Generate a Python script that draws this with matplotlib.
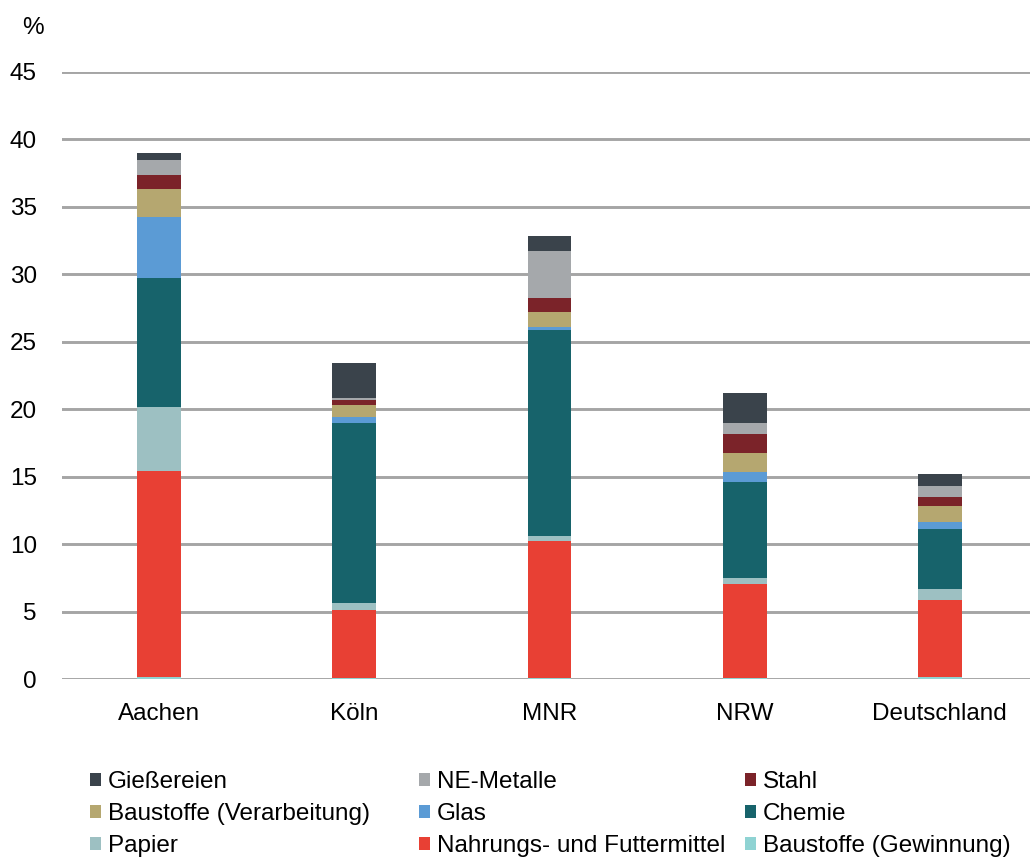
import matplotlib.pyplot as plt
import numpy as np

plt.rcParams['font.family'] = ['Liberation Sans', 'DejaVu Sans']

regions = ['Aachen', 'Köln', 'MNR', 'NRW', 'Deutschland']

# stacked from bottom to top
sectors = ['Baustoffe (Gewinnung)', 'Nahrungs- und Futtermittel', 'Papier', 'Chemie',
           'Glas', 'Baustoffe (Verarbeitung)', 'Stahl', 'NE-Metalle', 'Gießereien']
colors = ['#8fd3d3', '#e84034', '#9dc0c2', '#17636b', '#5b9bd5', '#b5a770',
          '#7b2329', '#a5a8ab', '#3a434b']

baustoffe_gew = [0.15, 0.05, 0.10, 0.10, 0.17]
nahrung = [15.25, 5.05, 10.13, 6.92, 5.69]
papier = [4.80, 0.50, 0.37, 0.44, 0.79]
chemie = [9.50, 13.35, 15.27, 7.12, 4.45]
glas = [4.55, 0.50, 0.20, 0.76, 0.56]
baustoffe_verarb = [2.10, 0.85, 1.16, 1.38, 1.19]
stahl = [1.05, 0.40, 1.04, 1.41, 0.61]
ne_metalle = [1.10, 0.10, 3.43, 0.82, 0.84]
giessereien = [0.50, 2.65, 1.15, 2.22, 0.87]

values = [baustoffe_gew, nahrung, papier, chemie, glas, baustoffe_verarb,
          stahl, ne_metalle, giessereien]

fig = plt.figure(figsize=(10.3, 8.58), dpi=100)
ax = fig.add_axes([0.060, 0.2086, 0.947, 0.7075])

x = np.arange(len(regions))
bottom = np.zeros(len(regions))
bars = {}
for name, vals, col in zip(sectors, values, colors):
    bars[name] = ax.bar(x, vals, 0.225, bottom=bottom, color=col, zorder=3)
    bottom += np.array(vals)

ax.set_ylim(0, 45)
ax.set_xlim(-0.5, 4.5)
ax.set_yticks(range(0, 50, 5))
ax.yaxis.grid(True, color='#a5a5a5', linewidth=2.1, zorder=0)
ax.set_axisbelow(True)
for s in ax.spines.values():
    s.set_visible(False)
ax.set_xticks(x)
ax.set_xticklabels(regions)
ax.tick_params(axis='both', length=0, labelsize=17.5, colors='#000000')
ax.tick_params(axis='x', pad=17)
ax.tick_params(axis='y', pad=18)

fig.text(33 / 1030, 1 - 28 / 858, '%', fontsize=17.5, ha='center', va='center')

# legend: three columns on a fixed grid, like the original
legend_cols = [['Gießereien', 'Baustoffe (Verarbeitung)', 'Papier'],
               ['NE-Metalle', 'Glas', 'Nahrungs- und Futtermittel'],
               ['Stahl', 'Chemie', 'Baustoffe (Gewinnung)']]
col_x = [90, 419, 745]
for names, lx in zip(legend_cols, col_x):
    fig.legend([bars[n] for n in names], names, loc='upper left',
               bbox_to_anchor=(lx / 1030, 1 - 771 / 858), frameon=False,
               fontsize=17.5, handlelength=0.45, handleheight=0.45,
               handletextpad=0.3, labelspacing=0.42, borderpad=0,
               borderaxespad=0)

fig.savefig('out.png', dpi=100)
